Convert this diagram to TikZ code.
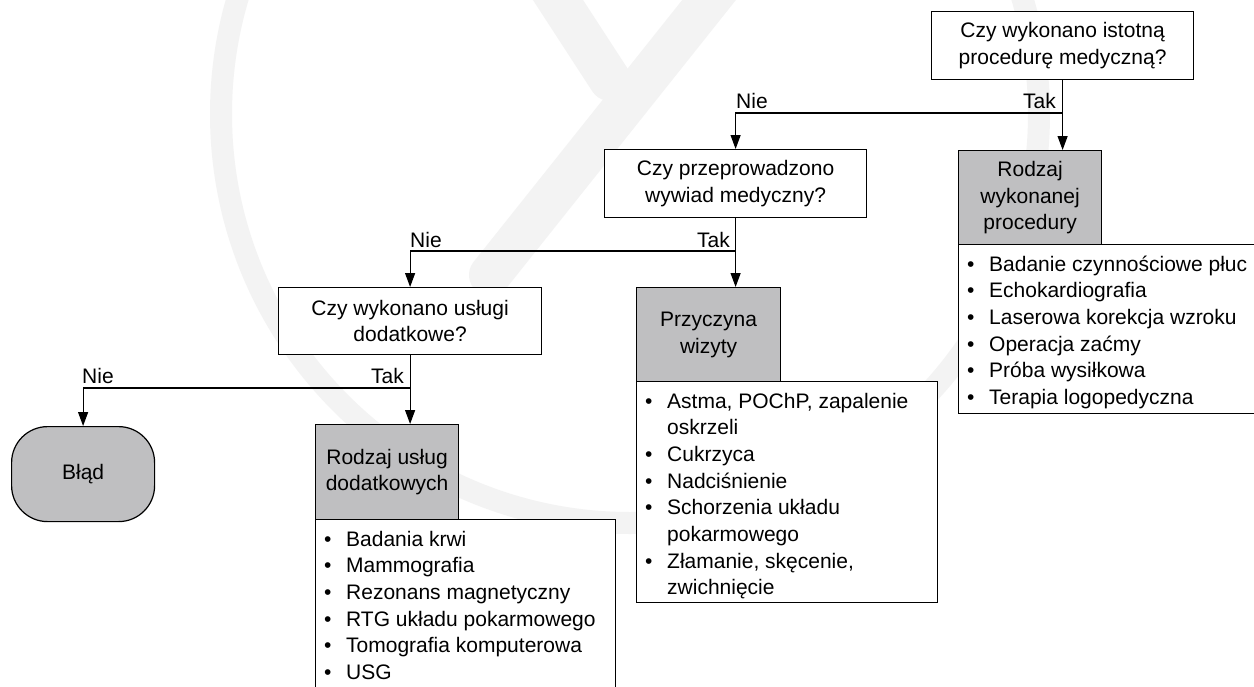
\documentclass[tikz,border=0pt]{standalone}
\usepackage{fontspec}
\setmainfont{Liberation Sans}
\usetikzlibrary{arrows.meta}
\definecolor{boxgray}{RGB}{191,191,193}
\definecolor{wmark}{RGB}{243,243,243}
\newcommand{\bl}{\textbullet}
\begin{document}
\begin{tikzpicture}[x=1pt,y=-1pt,
  every node/.style={font=\fontsize{21pt}{26.7pt}\selectfont, inner sep=0pt},
  qbox/.style={draw, line width=1.2pt, fill=white, anchor=north west, align=center},
  gbox/.style={draw, line width=1.2pt, fill=boxgray, anchor=north west, align=center},
  lbox/.style={draw, line width=1.2pt, fill=white, anchor=north west},
  ltext/.style={anchor=base west, align=left},
  arr/.style={line width=1.2pt, -{Triangle[width=10pt,length=14pt]}},
  wm/.style={draw=wmark, line cap=round},
]
\useasboundingbox (0,0) rectangle (1254,686);
\clip (0,0) rectangle (1254,686);
\fill[white] (0,0) rectangle (1254,686);

% faint watermark
\draw[wm, line width=22pt] (630,114) circle[radius=409];
\draw[wm, line width=42pt] (725,-20) -- (490,275);
\draw[wm, line width=42pt] (545,-20) -- (610,80);

% question boxes
\node[qbox, minimum width=262pt, minimum height=68pt] (Q1) at (931,11) {Czy wykonano istotną\\procedurę medyczną?};
\node[qbox, minimum width=262pt, minimum height=68pt] (Q2) at (604,149) {Czy przeprowadzono\\wywiad medyczny?};
\node[qbox, minimum width=263pt, minimum height=67pt] (Q3) at (278,287) {Czy wykonano usługi\\dodatkowe?};

% gray boxes
\node[gbox, minimum width=143pt, minimum height=94pt] (R1) at (958,150) {Rodzaj\\wykonanej\\procedury};
\node[gbox, minimum width=144pt, minimum height=94pt] (R2) at (636,287) {Przyczyna\\wizyty};
\node[gbox, minimum width=143pt, minimum height=95pt] (R3) at (315,424) {Rodzaj usług\\dodatkowych};
\node[draw, line width=1.2pt, fill=boxgray, rounded corners=36pt, anchor=north west,
      minimum width=143pt, minimum height=95pt] (B) at (11,426) {Błąd};

% list boxes
\node[lbox, minimum width=310pt, minimum height=169pt] (L1) at (958,244) {};
\node[lbox, minimum width=301pt, minimum height=221pt] (L2) at (636,381) {};
\node[lbox, minimum width=300pt, minimum height=200pt] (L3) at (315,519) {};

\node[ltext, xshift=9pt, yshift=-27pt] (L1t) at (L1.north west) {%
\begin{tabular}[t]{@{}p{22pt}@{}l@{}}
\bl & Badanie czynnościowe płuc\\
\bl & Echokardiografia\\
\bl & Laserowa korekcja wzroku\\
\bl & Operacja zaćmy\\
\bl & Próba wysiłkowa\\
\bl & Terapia logopedyczna
\end{tabular}};
\node[ltext, xshift=9pt, yshift=-27pt] (L2t) at (L2.north west) {%
\begin{tabular}[t]{@{}p{22pt}@{}l@{}}
\bl & Astma, POChP, zapalenie\\
    & oskrzeli\\
\bl & Cukrzyca\\
\bl & Nadciśnienie\\
\bl & Schorzenia układu\\
    & pokarmowego\\
\bl & Złamanie, skęcenie,\\
    & zwichnięcie
\end{tabular}};
\node[ltext, xshift=9pt, yshift=-27pt] (L3t) at (L3.north west) {%
\begin{tabular}[t]{@{}p{22pt}@{}l@{}}
\bl & Badania krwi\\
\bl & Mammografia\\
\bl & Rezonans magnetyczny\\
\bl & RTG układu pokarmowego\\
\bl & Tomografia komputerowa\\
\bl & USG
\end{tabular}};

% branch points
\coordinate (b1) at (Q1.south |- 0,113);
\coordinate (b2) at (Q2.south |- 0,251);
\coordinate (b3) at (Q3.south |- 0,388);

% connectors
\draw[arr] (Q1.south) -- (Q1.south |- R1.north);
\draw[arr] (b1) -| (Q2.north);
\draw[arr] (Q2.south) -- (Q2.south |- R2.north);
\draw[arr] (b2) -| (Q3.north);
\draw[arr] (Q3.south) -- (Q3.south |- R3.north);
\draw[arr] (b3) -| (B.north);

% labels
\node[anchor=base east] (T1) at (1056,108.5) {Tak};
\node[anchor=base west] (N1) at (736,108.5) {Nie};
\node[anchor=base east] (T2) at (730,247.5) {Tak};
\node[anchor=base west] (N2) at (410,247.5) {Nie};
\node[anchor=base east] (T3) at (404,383) {Tak};
\node[anchor=base west] (N3) at (82,383) {Nie};
\end{tikzpicture}
\end{document}
